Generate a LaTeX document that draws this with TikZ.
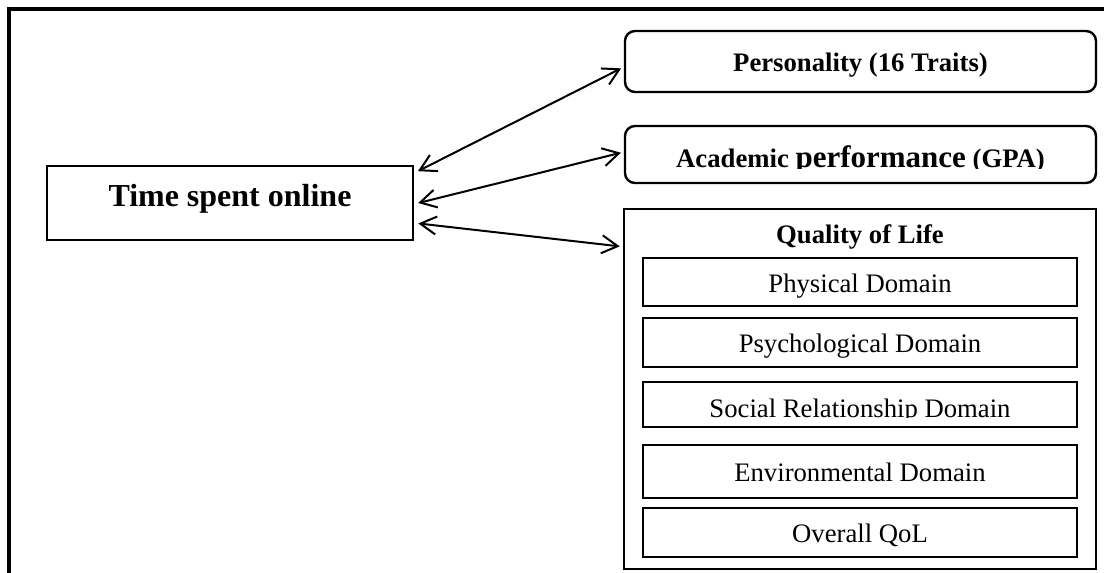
\documentclass[tikz,border=0pt]{standalone}
\usepackage{fontspec}
\setmainfont{Liberation Serif}
\usetikzlibrary{arrows.meta,positioning}
\tikzset{
  factor/.style={draw=black, line width=2.6pt, align=center, inner sep=0pt, minimum width=366pt, minimum height=74pt, font=\bfseries\fontsize{32}{38}\selectfont, text height=22pt, text depth=16pt},
  outcome/.style={draw=black, line width=2.4pt, rounded corners=10pt, align=center, inner sep=0pt, minimum width=471pt, font=\bfseries\fontsize{26.7}{32}\selectfont, text height=19pt, text depth=0pt},
  qolframe/.style={draw=black, line width=2.6pt, inner sep=0pt, minimum width=472pt, minimum height=360pt},
  heading/.style={inner sep=0pt, font=\bfseries\fontsize{26.7}{32}\selectfont},
  domaintext/.style={inner sep=0pt, font=\fontsize{26.7}{32}\selectfont},
  domainbox/.style={domaintext, draw=black, line width=2pt, minimum width=434pt, text height=20pt, text depth=0pt},
  arrow/.style={{Straight Barb[length=16pt,width=18pt]}-{Straight Barb[length=16pt,width=18pt]}, line width=2pt, shorten <=4pt, shorten >=3pt}
}
\begin{document}
\begin{tikzpicture}[x=1pt, y=-1pt]
  \useasboundingbox (0,0) rectangle (1104,573);
  % frame, open at the bottom and right
  \draw[line width=4pt] (9,573) -- (9,9) -- (1104,9);

  \node[factor] (time) at (230,203) {Time spent online};

  \node[outcome, minimum height=61pt] (pers) at (860.5,61.5) {Personality (16 Traits)};
  \node[outcome, minimum height=57pt] (acad) at (860.5,154.5) {};
  \begin{scope}
    \clip (625,126) rectangle (1096,168);
    \node[heading, anchor=base] (acadtext) at (860.5,167) {Academic {\fontsize{31}{36}\selectfont performance} (GPA)};
  \end{scope}

  \node[qolframe] (qol) at (860,389) {};
  \node[heading, anchor=base] (qoltitle) at (860,243) {Quality of Life};
  \node[domainbox, minimum height=48pt] (phys) at (860,282) {Physical Domain};
  \node[domainbox, minimum height=49pt] (psych) at (860,342.5) {Psychological Domain};
  \node[domainbox, minimum height=45pt] (social) at (860,404.5) {};
  \begin{scope}
    \clip (643,382) rectangle (1077,417);
    \node[domaintext, anchor=base] (socialtext) at (860,417) {Social Relationship Domain};
  \end{scope}
  \node[domainbox, minimum height=53pt] (env) at (860,471.5) {Environmental Domain};
  \node[domainbox, minimum height=49pt] (overall) at (860,532.5) {Overall QoL};

  \draw[arrow] ([yshift=30pt]time.east) -- ([yshift=-5.5pt]pers.west);
  \draw[arrow] ([yshift=-1pt]time.east) -- ([yshift=2.5pt]acad.west);
  \draw[arrow] ([yshift=-20pt]time.east) -- ([yshift=-39pt]qol.north west);
\end{tikzpicture}
\end{document}
